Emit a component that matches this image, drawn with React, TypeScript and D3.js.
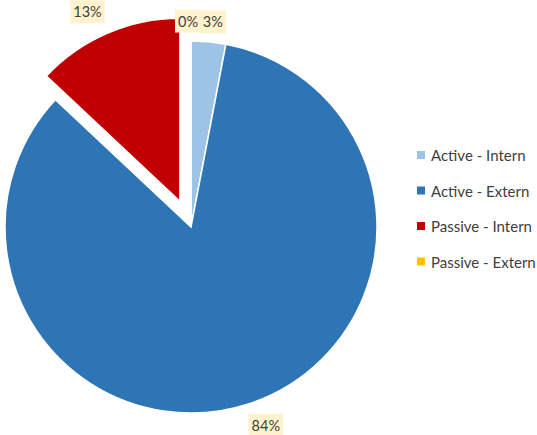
import * as d3 from "d3";
import { useRef, useEffect } from "react";

const categories = ["Active - Intern", "Active - Extern", "Passive - Intern", "Passive - Extern"];
const values = [3, 84, 13, 0];
const labels = ["3%", "84%", "13%", "0%"];
const colors = ["#9DC3E6", "#2E75B6", "#C00000", "#FFC000"];
const exploded = [0, 0, 28, 0];

// label nudges (px) relative to the outside-end point
const LABEL_NUDGE = [[3, -6], [13, 8], [-13, -6], [-3, -6]];

const WIDTH = 537;
const HEIGHT = 435;
const CX = 191;
const CY = 227;
const R = 186;
const FONT = "Lato, 'Open Sans', sans-serif";

export default function App() {
    const ref = useRef<SVGSVGElement>(null);

    useEffect(() => {
        const svg = d3.select(ref.current);
        svg.selectAll("*").remove();

        const pie = d3.pie<number>().sort(null).value((d) => d);
        const arcs = pie(values);
        const arc = d3.arc<d3.PieArcDatum<number>>().innerRadius(0).outerRadius((d, ) => R);

        const g = svg.append("g").attr("transform", `translate(${CX},${CY})`);

        g.selectAll("path")
            .data(arcs)
            .join("path")
            .attr("d", (d, i) => arc.outerRadius(exploded[i] ? R - 3 : R)(d))
            .attr("fill", (_, i) => colors[i])
            .attr("stroke", "#fff")
            .attr("stroke-width", 1.5)
            .attr("transform", (d, i) => {
                const mid = (d.startAngle + d.endAngle) / 2;
                const off = exploded[i];
                return `translate(${Math.sin(mid) * off},${-Math.cos(mid) * off})`;
            });

        // data labels
        const labelG = g.append("g");
        arcs.forEach((d, i) => {
            const mid = (d.startAngle + d.endAngle) / 2;
            const rr = R + exploded[i] + 14;
            const x = Math.sin(mid) * rr + LABEL_NUDGE[i][0];
            const y = -Math.cos(mid) * rr + LABEL_NUDGE[i][1];
            const lg = labelG.append("g").attr("transform", `translate(${x},${y})`);
            const rect = lg.append("rect").attr("fill", "#FFF2CC");
            const t = lg.append("text")
                .text(labels[i])
                .attr("text-anchor", "middle")
                .attr("dominant-baseline", "central")
                .attr("font-family", FONT)
                .attr("font-size", 14.5)
                .attr("fill", "#404040");
            const bb = (t.node() as SVGTextElement).getBBox();
            rect.attr("x", bb.x - 3).attr("y", -11.5).attr("width", bb.width + 6).attr("height", 23);
        });

        // legend
        const legend = svg.append("g").attr("transform", "translate(417,155)");
        categories.forEach((c, i) => {
            const row = legend.append("g").attr("transform", `translate(0,${i * 35.5})`);
            row.append("rect").attr("x", 0).attr("y", -4).attr("width", 8).attr("height", 8).attr("fill", colors[i]);
            row.append("text")
                .text(c)
                .attr("x", 14)
                .attr("dominant-baseline", "central")
                .attr("font-family", FONT)
                .attr("font-size", 15)
                .attr("fill", "#404040");
        });
    }, []);

    return (
        <div style={{ position: "absolute", left: 0, top: 0 }}>
            <svg ref={ref} width={WIDTH} height={HEIGHT} style={{ display: "block", background: "#fff" }} />
        </div>
    );
}
